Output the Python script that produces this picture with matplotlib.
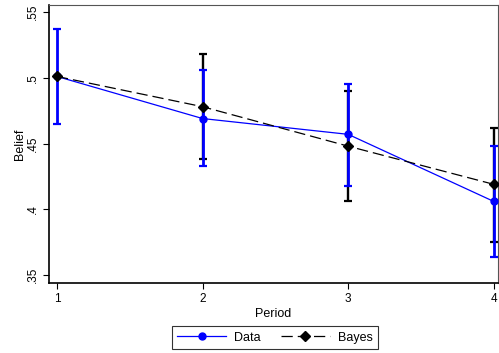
import matplotlib
matplotlib.use('Agg')
import matplotlib.pyplot as plt
import numpy as np

plt.rcParams['font.family'] = ['Liberation Sans', 'DejaVu Sans']

periods = [1, 2, 3, 4]
data_mean = [0.501, 0.469, 0.457, 0.406]
data_lo = [0.465, 0.433, 0.418, 0.364]
data_hi = [0.537, 0.506, 0.495, 0.448]
bayes_mean = [0.501, 0.478, 0.448, 0.419]
bayes_lo = [0.501, 0.438, 0.406, 0.375]
bayes_hi = [0.501, 0.518, 0.490, 0.462]
yticks = [0.35, 0.4, 0.45, 0.5, 0.55]
ytick_labels = ['.35', '.4', '.45', '.5', '.55']

fig = plt.figure(figsize=(4.99, 3.53), dpi=100)
ax = fig.add_axes([0.0982, 0.1983, 0.9, 0.7875])

bm = np.array(bayes_mean)
dm = np.array(data_mean)
ax.errorbar(periods, bayes_mean, yerr=[bm - bayes_lo, np.array(bayes_hi) - bm],
            fmt='none', ecolor='black', elinewidth=1.7, capsize=3, capthick=1.6, zorder=2)
ax.errorbar(periods, data_mean, yerr=[dm - data_lo, np.array(data_hi) - dm],
            fmt='none', ecolor='blue', elinewidth=2.0, capsize=3, capthick=1.6, zorder=3)
ax.plot(periods, data_mean, color='blue', lw=0.9, marker='o', ms=5, zorder=4, label='Data')
ax.plot(periods, bayes_mean, color='black', lw=0.9, ls=(0, (9, 4)), marker='D', ms=5,
        zorder=5, label='Bayes')

ax.set_xlim(0.945, 4.03)
ax.set_ylim(0.344, 0.5553)
ax.set_xticks(periods)
ax.set_yticks(yticks, ytick_labels)
ax.tick_params(axis='y', labelrotation=90, labelsize=8.5, length=4)
ax.tick_params(axis='x', labelsize=8.5, length=4)
for lab in ax.get_yticklabels():
    lab.set_va('center')
ax.set_ylabel('Belief', fontsize=9, labelpad=0.5)
ax.set_xlabel('Period', fontsize=9, labelpad=2)

for s in ['left', 'bottom']:
    ax.spines[s].set_linewidth(1.2)
for s in ['top', 'right']:
    ax.spines[s].set_linewidth(0.8)
    ax.spines[s].set_color('#555555')

leg = fig.legend(loc='center', bbox_to_anchor=(0.551, 0.043), ncol=2, fontsize=9,
                 frameon=True, fancybox=False, edgecolor='black', handlelength=3.9,
                 handletextpad=0.65, columnspacing=1.6, borderpad=0.45)
leg.get_frame().set_linewidth(0.8)

fig.savefig('out.png', dpi=100)
